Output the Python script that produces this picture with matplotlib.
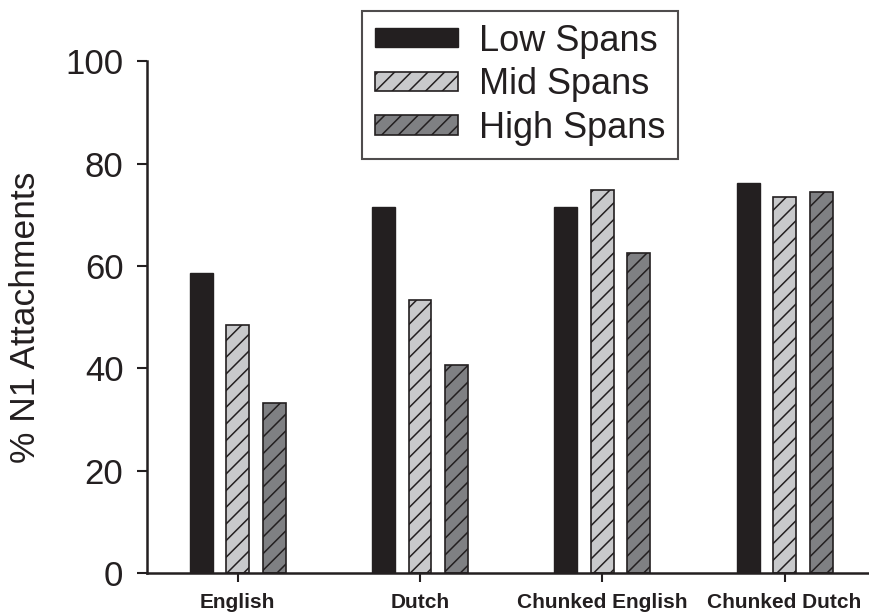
import numpy as np
import matplotlib
matplotlib.use("Agg")
import matplotlib.pyplot as plt

plt.rcParams['font.family'] = ['Liberation Sans', 'DejaVu Sans']
plt.rcParams['hatch.linewidth'] = 1.1

# data
groups = ['English', 'Dutch', 'Chunked English', 'Chunked Dutch']
low_spans = [58.6, 71.5, 71.6, 76.2]
mid_spans = [48.5, 53.4, 74.9, 73.5]
high_spans = [33.2, 40.6, 62.5, 74.5]
series_names = ['Low Spans', 'Mid Spans', 'High Spans']

ink = '#231f20'
W, H = 869, 614
fig = plt.figure(figsize=(W / 100, H / 100), dpi=100)
ax = fig.add_axes([147 / W, 41 / H, (W - 147) / W, (573 - 61.3) / H])

x = np.arange(len(groups))
bw = 0.126
off = 0.2
ax.bar(x - off, low_spans, bw, color=ink, edgecolor=ink, linewidth=1, label=series_names[0])
ax.bar(x, mid_spans, bw, color='#c8c9cb', edgecolor=ink, linewidth=1.2, hatch='//', label=series_names[1])
ax.bar(x + off, high_spans, bw, color='#7f8083', edgecolor=ink, linewidth=1.2, hatch='//', label=series_names[2])

ax.set_ylim(0, 100)
ax.set_xlim(-0.4975, 3.463)
ax.set_yticks([0, 20, 40, 60, 80, 100])
ax.set_xticks(x)
ax.set_xticklabels(groups, fontsize=15, fontweight='bold', color=ink)
ax.tick_params(axis='y', labelsize=25, colors=ink, length=7, width=1.5, direction='out', pad=10)
ax.tick_params(axis='x', length=6.5, width=1.5, direction='out', pad=8, colors=ink)
ax.set_ylabel('% N1 Attachments', fontsize=25.5, color=ink)
ax.yaxis.set_label_coords(-0.145, 0.5)

for s in ['top', 'right']:
    ax.spines[s].set_visible(False)
for s in ['left', 'bottom']:
    ax.spines[s].set_linewidth(1.8)
    ax.spines[s].set_color(ink)

leg = ax.legend(loc='upper left', bbox_to_anchor=(362 / W, 1 - 11 / H), bbox_transform=fig.transFigure,
                borderaxespad=0, fontsize=26, frameon=True, fancybox=False, handlelength=2.3,
                handleheight=0.45, labelspacing=0.24, handletextpad=0.6, borderpad=0.35)
leg.get_frame().set_edgecolor(ink)
leg.get_frame().set_linewidth(1.5)
for t in leg.get_texts():
    t.set_color(ink)

fig.savefig('out.png', dpi=100)
